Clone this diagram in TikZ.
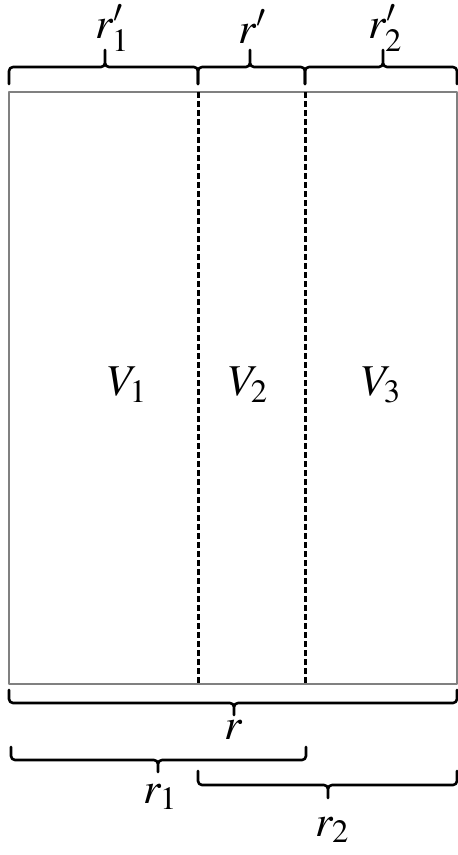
\documentclass[tikz,border=0pt]{standalone}
\usepackage{mathptmx}

\begin{document}
\begin{tikzpicture}[x=1pt, y=-1pt, line cap=round, line join=round,
    lbl/.style={font=\fontsize{44}{52}\selectfont, inner sep=0pt},
    brc/.style={line width=2.6pt, rounded corners=4pt}]
    \useasboundingbox (0,0) rectangle (458,855);
    \coordinate (nw) at (9,92);
    \coordinate (se) at (457,684);
    \draw[gray, line width=1.2pt] (nw) rectangle (se);
    \foreach \x in {198,305} \draw[line width=3pt, line cap=butt, dash pattern=on 6pt off 3pt] (\x,92) -- (\x,684);
    % braces: left/right/tip x/ends/flat/tip
    \foreach \a/\b/\m/\ya/\yb/\yc in {9/198/105/84/67/50, 198/305/250/84/67/50, 305/457/383/84/67/50,
      9/457/234/690/703/715, 11/306/158/747/760/772, 198/457/328/771/785/798}
      \draw[brc] (\a,\ya) -- (\a,\yb) -- (\m,\yb) -- (\m,\yc) (\m,\yc) -- (\m,\yb) -- (\b,\yb) -- (\b,\ya);
    \node[lbl] (r1p) at (112,28) {$r'_1$};
    \node[lbl] (rp)  at (252,27) {$r'$};
    \node[lbl] (r2p) at (385,28) {$r'_2$};
    \node[lbl] (V1)  at (127,385) {$V_1$};
    \node[lbl] (V2)  at (248,385) {$V_2$};
    \node[lbl] (V3)  at (381,385) {$V_3$};
    \node[lbl] (r)   at (234,730) {$r$};
    \node[lbl] (r1)  at (160,797) {$r_1$};
    \node[lbl] (r2)  at (332,830) {$r_2$};
\end{tikzpicture}
\end{document}
